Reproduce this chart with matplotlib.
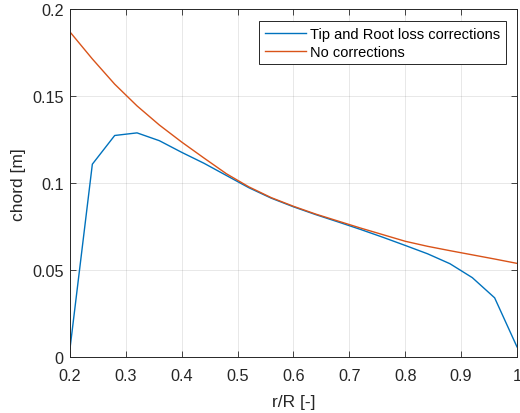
import numpy as np
import matplotlib
matplotlib.use('Agg')
import matplotlib.pyplot as plt

# radial stations
r_R = [0.20, 0.24, 0.28, 0.32, 0.36, 0.40, 0.44, 0.48, 0.52, 0.56, 0.60,
       0.64, 0.68, 0.72, 0.76, 0.80, 0.84, 0.88, 0.92, 0.96, 1.00]

# chord with tip/root loss corrections
chord_corr = [0.005, 0.111, 0.1275, 0.129, 0.1245, 0.1178, 0.1115, 0.1045, 0.0975, 0.0915, 0.0865,
              0.082, 0.0778, 0.0735, 0.069, 0.0643, 0.0595, 0.0538, 0.0458, 0.0342, 0.006]

# chord without corrections
chord_nocorr = [0.187, 0.1715, 0.157, 0.1445, 0.1335, 0.1237, 0.1145, 0.1055, 0.098, 0.0918, 0.0868,
                0.0823, 0.0783, 0.0743, 0.0705, 0.0667, 0.0638, 0.0613, 0.0589, 0.0565, 0.054]

plt.rcParams['font.family'] = ['Liberation Sans', 'DejaVu Sans']

fig = plt.figure(figsize=(5.2, 4.14), dpi=100)
ax = fig.add_axes([0.1346, 0.1345, 0.8596, 0.8405])

ax.plot(r_R, chord_corr, color='#0072BD', lw=1.0, label='Tip and Root loss corrections')
ax.plot(r_R, chord_nocorr, color='#D95319', lw=1.0, label='No corrections')

ax.set_xlim(0.2, 1.0)
ax.set_ylim(0, 0.2)
ax.set_xticks([0.2, 0.3, 0.4, 0.5, 0.6, 0.7, 0.8, 0.9, 1.0])
ax.set_xticklabels(['0.2', '0.3', '0.4', '0.5', '0.6', '0.7', '0.8', '0.9', '1'])
ax.set_yticks([0, 0.05, 0.1, 0.15, 0.2])
ax.set_yticklabels(['0', '0.05', '0.1', '0.15', '0.2'])

ax.grid(True, color='#262626', alpha=0.12, lw=0.6)
ax.tick_params(direction='in', top=True, right=True, labelsize=11.7,
               colors='#262626', length=4, width=0.6)
ax.tick_params(axis='x', pad=7.5)
ax.tick_params(axis='y', pad=4.5)
for s in ax.spines.values():
    s.set_color('#262626')
    s.set_linewidth(0.7)

ax.set_xlabel('r/R [-]', fontsize=12.5, color='#262626')
ax.set_ylabel('chord [m]', fontsize=12.5, color='#262626')
ax.xaxis.set_label_coords(0.5, -0.105)
ax.yaxis.set_label_coords(-0.098, 0.5)

# legend box top-right corner placed like the original
leg = ax.legend(loc='upper right', fontsize=10.5, fancybox=False, framealpha=1,
                edgecolor='#262626', handlelength=2.85, borderpad=0.4,
                labelspacing=0.25, handletextpad=0.25, borderaxespad=0,
                bbox_to_anchor=(0.975, 0.966))
leg.get_frame().set_linewidth(0.7)

fig.savefig('out.png', dpi=100)
